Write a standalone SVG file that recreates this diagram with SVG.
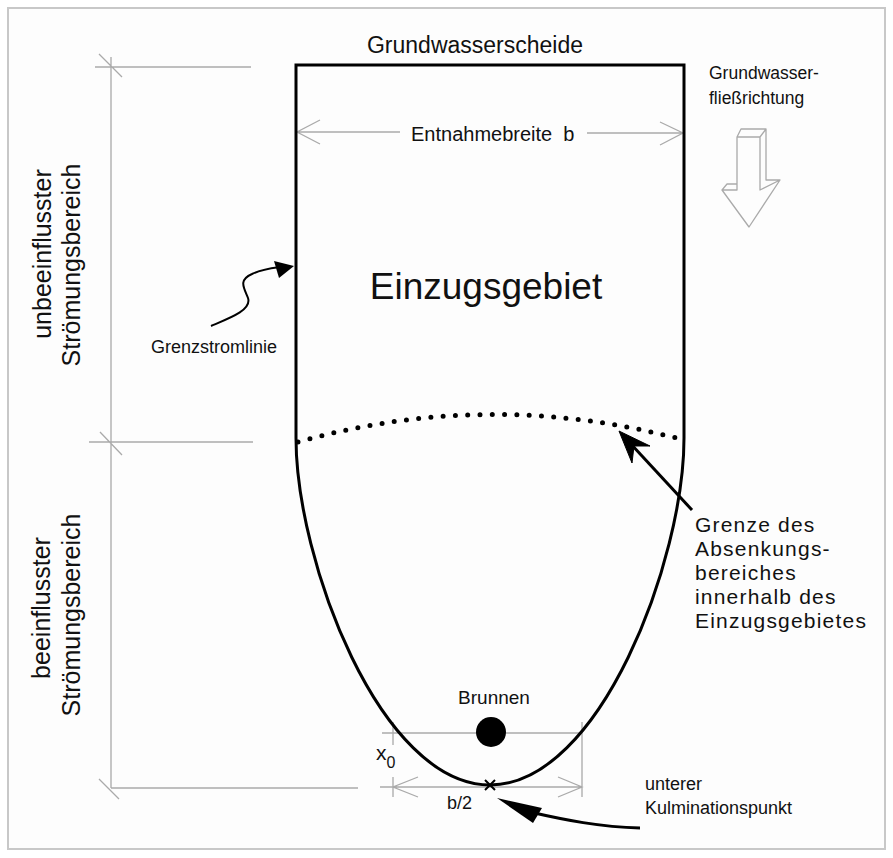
<svg xmlns="http://www.w3.org/2000/svg" width="893" height="858" viewBox="0 0 893 858">
<style>
.t{font-family:"Liberation Sans",Arial,Helvetica,sans-serif;fill:#111}
.g{stroke:#aaa;stroke-width:1.3;fill:none}
.k{stroke:#000;fill:none}
</style>
<rect x="0" y="0" width="893" height="858" fill="#fff"/>
<rect x="8" y="8" width="877" height="841" fill="#fdfdfd" stroke="#c8c8c8" stroke-width="2"/>

<g id="dimensions">
<path class="g" d="M111,57 V788 M95,67 H251 M89,442 H253 M111,788 H358 M99,54 L122,77 M100,432 L122,455 M99,779 L119,799"/>
<path class="g" d="M297,132 H400 M320,120 L297,132 L320,144 M587,133 H683 M660,122 L683,133 L660,145"/>
<path class="g" d="M382,733 H582 M393,722 V745 M582,722 V797 M380,787 H582 M393,777 V797 M418,777 L393,787 L418,797 M558,777 L582,787 L558,797"/>
</g>

<g id="einzugsgebiet">
<path class="k" stroke-width="3" d="M296,65 H684 V438 C684,560 600,785 490,785 C380,785 296,560 296,438 Z"/>
<text class="t" x="486" y="299" font-size="37" text-anchor="middle">Einzugsgebiet</text>
</g>

<g id="grundwasserscheide">
<text class="t" x="475" y="53" font-size="23" text-anchor="middle">Grundwasserscheide</text>
</g>

<g id="entnahmebreite">
<text class="t" x="411" y="141" font-size="20">Entnahmebreite&#160; b</text>
</g>

<g id="fliessrichtung">
<text class="t" x="709" y="79" font-size="17.5">Grundwasser-</text>
<text class="t" x="709" y="104" font-size="17.5">fließrichtung</text>
<path class="g" stroke-linejoin="round" d="M737,137 L741,129 L766,129 L766,180 L780,180 L749,227 L722,190 L727,184 L737,184 Z M737,137 H760 L766,129 M760,137 V190 L780,180 M722,190 H737 V184"/>
</g>

<g id="grenzstromlinie">
<text class="t" x="151" y="353" font-size="18">Grenzstromlinie</text>
</g>

<g id="absenkung">
<path d="M298,442 Q490,388 684,440" fill="none" stroke="#000" stroke-width="5" stroke-linecap="round" stroke-dasharray="0 12.3"/>
<text class="t" font-size="21" letter-spacing="1.2"><tspan x="695" y="532">Grenze des</tspan><tspan x="695" y="556">Absenkungs-</tspan><tspan x="695" y="580">bereiches</tspan><tspan x="695" y="604">innerhalb des</tspan><tspan x="695" y="628">Einzugsgebietes</tspan></text>
</g>

<g id="brunnen">
<circle cx="491" cy="732" r="15" fill="#000"/>
<text class="t" x="494" y="704" font-size="19" text-anchor="middle">Brunnen</text>
</g>

<g id="kulmination">
<path class="k" stroke-width="2" d="M485,780 L495,790 M495,780 L485,790"/>
<text class="t" x="645" y="790" font-size="18">unterer</text>
<text class="t" x="645" y="814" font-size="18">Kulminationspunkt</text>
</g>

<g id="labels">
<text class="t" x="376" y="760" font-size="21">x<tspan font-size="16" dy="8">0</tspan></text>
<text class="t" x="447" y="809" font-size="18">b/2</text>
<text class="t" font-size="25" text-anchor="middle" transform="translate(51,254) rotate(-90)">unbeeinflusster</text>
<text class="t" font-size="25" text-anchor="middle" transform="translate(80,265) rotate(-90)">Strömungsbereich</text>
<text class="t" font-size="25" text-anchor="middle" transform="translate(50,608) rotate(-90)">beeinflusster</text>
<text class="t" font-size="25" text-anchor="middle" transform="translate(80,615) rotate(-90)">Strömungsbereich</text>
</g>

<g id="connectors">
<path class="k" stroke-width="2" d="M211,326 C230,318 252,310 248,298 C244,288 238,280 252,274 C262,269 272,268 280,267"/>
<path d="M294,266 L274,261 L279,278 Z" fill="#000"/>
<path class="k" stroke-width="3" d="M692,510 L630,443"/>
<path d="M619,431 L650,446 L634,446 L632,463 Z" fill="#000" stroke="#000" stroke-width="1" stroke-linejoin="miter"/>
<path class="k" stroke-width="3" d="M640,828 C600,827 565,820 530,812"/>
<path d="M497,798 L542,808 L533,823 Z" fill="#000"/>
</g>
</svg>
